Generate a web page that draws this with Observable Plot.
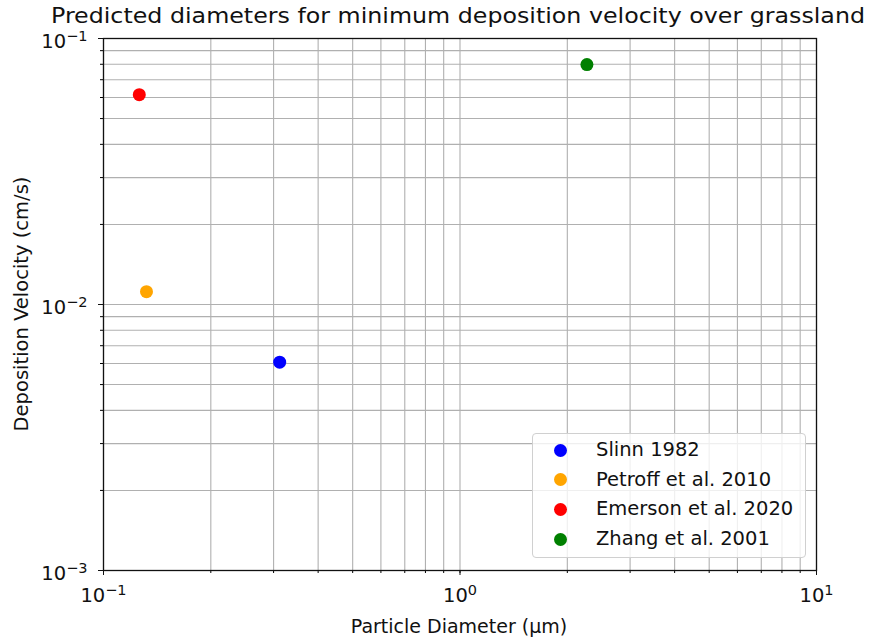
<!DOCTYPE html>
<html>
<head>
<meta charset="utf-8">
<script src="https://cdn.jsdelivr.net/npm/d3@7"></script>
<script src="https://cdn.jsdelivr.net/npm/@observablehq/plot@0.6"></script>
<style>
  body { margin: 0; background: #fff; font-family: "DejaVu Sans", sans-serif; color: #000; }
  #wrap { position: relative; width: 870px; height: 638px; overflow: hidden; }
  #wrap svg { position: absolute; left: 0; top: 0; }
  .title { position: absolute; left: 458px; top: 6px; transform: translateX(-50%) scaleX(1.13); font-size: 21px; line-height: 21px; white-space: nowrap; color: #111; }
  .xlabel { position: absolute; left: 459px; top: 615px; transform: translateX(-50%); font-size: 19px; line-height: normal; white-space: nowrap; color: #111; }
  .ylabel { position: absolute; left: 21px; top: 304px; transform: translate(-50%, -50%) rotate(-90deg); font-size: 19.5px; line-height: normal; white-space: nowrap; color: #111; }
  .legend { position: absolute; left: 532px; top: 433px; width: 272px; height: 123px;
            border: 1px solid #d0d0d0; border-radius: 4px; background: rgba(255,255,255,0.8); }
  .legend .sw { position: absolute; left: 21px; width: 13px; height: 13px; border-radius: 50%; }
  .legend .lab { position: absolute; left: 63px; font-size: 19.5px; line-height: 24px; white-space: nowrap; color: #111; }
</style>
</head>
<body>
<div id="wrap"></div>
<script>
// Studies and their predicted minimum-deposition-velocity points over grassland
const studies = ["Slinn 1982", "Petroff et al. 2010", "Emerson et al. 2020", "Zhang et al. 2001"];
const diameters = [0.312, 0.132, 0.126, 2.27];        // µm
const velocities = [0.00607, 0.01117, 0.0615, 0.0798]; // cm/s
const colors = ["blue", "orange", "red", "green"];

// Major ticks and their labels (base and exponent)
const xTicks = [0.1, 1, 10];
const xTickExponents = ["\u22121", "0", "1"];
const yTicks = [0.001, 0.01, 0.1];
const yTickExponents = ["\u22123", "\u22122", "\u22121"];

// Log grid: every k·10^e between the first and last decade
function logSteps(lo, hi) {
  const out = [];
  for (let e = Math.round(Math.log10(lo)); e < Math.round(Math.log10(hi)); e++)
    for (let k = 1; k <= 9; k++) out.push(+(k * Math.pow(10, e)).toPrecision(6));
  out.push(hi);
  return out;
}
const xGrid = logSteps(0.1, 10);
const yGrid = logSteps(0.001, 0.1);

const points = studies.map((s, i) => ({study: s, d: diameters[i], v: velocities[i]}));

const chart = Plot.plot({
  width: 870,
  height: 638,
  marginLeft: 103,
  marginRight: 54,
  marginTop: 38,
  marginBottom: 68,
  x: {type: "log", domain: [0.1, 10]},
  y: {type: "log", domain: [0.001, 0.1]},
  color: {domain: studies, range: colors},
  style: {fontFamily: "DejaVu Sans, sans-serif", fontSize: "19.5px", color: "#111", background: "transparent"},
  marks: [
    Plot.ruleX(xGrid, {stroke: "#b0b0b0", strokeWidth: 1.1}),
    Plot.ruleY(yGrid, {stroke: "#b0b0b0", strokeWidth: 1.1}),
    Plot.axisX({ticks: xGrid, tickSize: 3, tickFormat: () => "", label: null, stroke: "#000"}),
    Plot.axisY({ticks: yGrid, tickSize: 3, tickFormat: () => "", label: null, stroke: "#000"}),
    Plot.axisX({ticks: xTicks, tickSize: 5, tickPadding: 13, label: null, fontSize: 19.5,
                tickFormat: d => "10^" + xTickExponents[xTicks.indexOf(d)]}),
    Plot.axisY({ticks: yTicks, tickSize: 5, tickPadding: 11, label: null, fontSize: 19.5,
                tickFormat: d => "10^" + yTickExponents[yTicks.indexOf(d)]}),
    Plot.frame({stroke: "#111", strokeWidth: 1.3}),
    Plot.dot(points, {x: "d", y: "v", fill: "study", r: 6.5, stroke: null})
  ]
});

// Typeset "10^e" tick labels with a raised, smaller exponent
const SVGNS = "http://www.w3.org/2000/svg";
chart.querySelectorAll("text").forEach(t => {
  const m = /^10\^(.+)$/.exec(t.textContent);
  if (!m) return;
  const g = t.closest("g[aria-label]");
  const isY = g && g.getAttribute("aria-label").startsWith("y-axis");
  while (t.firstChild) t.removeChild(t.firstChild);
  const base = document.createElementNS(SVGNS, "tspan");
  base.textContent = "10";
  if (isY) base.setAttribute("dy", "3.5px");
  const exp = document.createElementNS(SVGNS, "tspan");
  exp.textContent = m[1];
  exp.setAttribute("font-size", "14.5px");
  exp.setAttribute("dy", "-7.5px");
  t.appendChild(base);
  t.appendChild(exp);
});

const wrap = document.getElementById("wrap");
wrap.appendChild(chart);

function addDiv(cls, text) {
  const el = document.createElement("div");
  el.className = cls;
  el.textContent = text;
  wrap.appendChild(el);
  return el;
}
addDiv("title", "Predicted diameters for minimum deposition velocity over grassland");
addDiv("xlabel", "Particle Diameter (\u00B5m)");
addDiv("ylabel", "Deposition Velocity (cm/s)");

// Legend: one row per study
const legend = document.createElement("div");
legend.className = "legend";
studies.forEach((s, i) => {
  const cy = 16 + i * 29.7;
  const sw = document.createElement("div");
  sw.className = "sw";
  sw.style.top = (cy - 6.5) + "px";
  sw.style.background = colors[i];
  const lab = document.createElement("div");
  lab.className = "lab";
  lab.style.top = (cy - 12) + "px";
  lab.textContent = s;
  legend.appendChild(sw);
  legend.appendChild(lab);
});
wrap.appendChild(legend);
</script>
</body>
</html>
